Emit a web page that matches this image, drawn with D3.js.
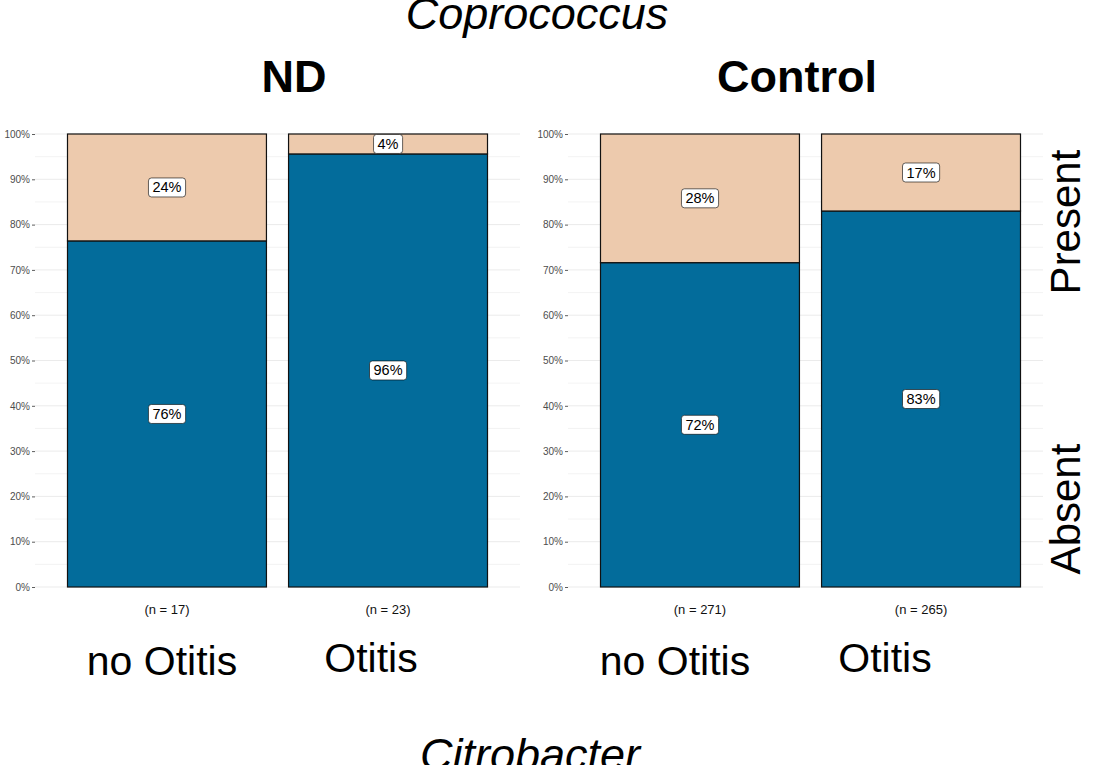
<!DOCTYPE html>
<html>
<head>
<meta charset="utf-8">
<script src="https://cdn.jsdelivr.net/npm/d3@7"></script>
<style>
  body { margin: 0; background: #fff; }
  svg { display: block; font-family: "Liberation Sans", Arial, sans-serif; }
</style>
</head>
<body>
<div id="chart"></div>
<script>
// data
var panelNames = ["ND", "Control"];
var groups = ["no Otitis", "Otitis"];
var ndN = [17, 23];
var controlN = [271, 265];
var ndAbsent = [76.4, 95.6];        // % Absent
var controlAbsent = [71.6, 83.0];
var statusNames = ["Absent", "Present"];
var yTicks = [0, 10, 20, 30, 40, 50, 60, 70, 80, 90, 100];

var W = 1103, H = 765;
var colAbsent = "#036c9b", colPresent = "#edcaad";

var svg = d3.select("#chart").append("svg")
    .attr("width", W).attr("height", H);

var y = d3.scaleLinear().domain([0, 100]).range([587, 134]);

var panels = [
  { name: panelNames[0], n: ndN, absent: ndAbsent, x0: 35, x1: 520, gridEnd: 520, titleX: 294, bigOff: [-5, -17] },
  { name: panelNames[1], n: controlN, absent: controlAbsent, x0: 568, x1: 1053, gridEnd: 1043, titleX: 797, bigOff: [-25, -36] }
];

panels.forEach(function(p){
  var x = d3.scaleBand().domain(groups).range([p.x0, p.x1])
      .paddingInner(0.1).paddingOuter(0.147);
  var g = svg.append("g");

  // grid, minor then major
  var minor = d3.range(5, 100, 10);
  g.selectAll(".minor").data(minor).enter().append("line")
    .attr("x1", p.x0).attr("x2", p.gridEnd)
    .attr("y1", function(d){ return y(d); }).attr("y2", function(d){ return y(d); })
    .attr("stroke", "#f0f0f0").attr("stroke-width", 0.8);
  g.selectAll(".major").data(yTicks).enter().append("line")
    .attr("x1", p.x0).attr("x2", p.gridEnd)
    .attr("y1", function(d){ return y(d); }).attr("y2", function(d){ return y(d); })
    .attr("stroke", "#ebebeb").attr("stroke-width", 1);

  // y axis
  var ax = g.append("g").attr("transform", "translate(" + p.x0 + ",0)")
    .call(d3.axisLeft(y).tickValues(yTicks).tickSize(3).tickPadding(2)
      .tickFormat(function(d){ return d + "%"; }));
  ax.select(".domain").remove();
  ax.selectAll("line").attr("stroke", "#333").attr("stroke-width", 0.8);
  ax.selectAll("text").attr("fill", "#4d4d4d").style("font-size", "10px")
    .style("font-family", "'Liberation Sans', Arial, sans-serif");

  groups.forEach(function(grp, i){
    var a = p.absent[i];
    var segs = [
      { status: statusNames[0], lo: 0, hi: a, col: colAbsent },
      { status: statusNames[1], lo: a, hi: 100, col: colPresent }
    ];
    segs.forEach(function(s){
      g.append("rect")
        .attr("x", x(grp)).attr("width", x.bandwidth())
        .attr("y", y(s.hi)).attr("height", y(s.lo) - y(s.hi))
        .attr("fill", s.col).attr("stroke", "#111").attr("stroke-width", 1.2);
    });
    segs.forEach(function(s){
      var cx = x(grp) + x.bandwidth() / 2;
      var cy = y((s.lo + s.hi) / 2);
      var txt = Math.round(s.hi - s.lo) + "%";
      var lab = g.append("g");
      var t = lab.append("text").attr("x", cx).attr("y", cy + 5)
        .attr("text-anchor", "middle").style("font-size", "14.5px").attr("fill", "#000").text(txt);
      var bb = t.node().getBBox();
      lab.insert("rect", "text")
        .attr("x", bb.x - 4).attr("y", cy - 9.5)
        .attr("width", bb.width + 8).attr("height", 19)
        .attr("rx", 3).attr("fill", "#fff").attr("stroke", "#000").attr("stroke-width", 0.6);
    });

    // n labels
    g.append("text").attr("x", x(grp) + x.bandwidth() / 2).attr("y", 614)
      .attr("text-anchor", "middle").style("font-size", "13px").attr("fill", "#111")
      .text("(n = " + p.n[i] + ")");

    // big group labels
    g.append("text").attr("x", x(grp) + x.bandwidth() / 2 + p.bigOff[i]).attr("y", i === 0 ? 675 : 672)
      .attr("text-anchor", "middle").style("font-size", "41px").attr("fill", "#000")
      .text(grp);
  });

  // panel title
  svg.append("text").attr("x", p.titleX).attr("y", 92)
    .attr("text-anchor", "middle").style("font-size", "45px").style("font-weight", "bold")
    .text(p.name);
});

// strip labels on the right
[{ t: statusNames[1], cy: 222 }, { t: statusNames[0], cy: 509 }].forEach(function(d){
  svg.append("text")
    .attr("transform", "translate(1080," + d.cy + ") rotate(-90)")
    .attr("text-anchor", "middle").style("font-size", "42px").text(d.t);
});

// genus titles (cut by the edges, as in the original)
svg.append("text").attr("x", 537).attr("y", 29).attr("text-anchor", "middle")
  .style("font-size", "45px").style("font-style", "italic").text("Coprococcus");
svg.append("text").attr("x", 530).attr("y", 770).attr("text-anchor", "middle")
  .style("font-size", "45px").style("font-style", "italic").text("Citrobacter");
</script>
</body>
</html>
